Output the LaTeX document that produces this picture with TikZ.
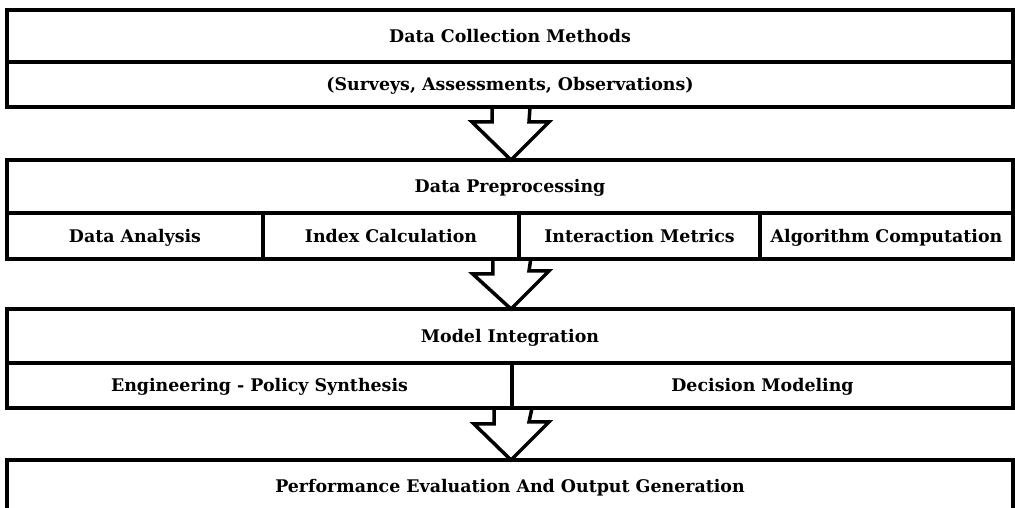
\documentclass[tikz,border=0pt]{standalone}
\usepackage{fontspec}
\setmainfont{DejaVu Serif}
\usetikzlibrary{calc}

\begin{document}
\begin{tikzpicture}[x=1pt,y=1pt,
	cell/.style={draw=black,line width=3.5pt,outer sep=0pt,inner sep=0pt,
		text height=14.5pt,text depth=2pt,
		font=\bfseries\fontsize{17.4}{20}\selectfont},
	flowarrow/.style={draw=black,line width=3.5pt,line join=miter}]
	\useasboundingbox (0,0) rectangle (1015,508);
	% stage 1
	\node[cell,minimum width=1006pt,minimum height=52pt] (collect) at (510,472) {Data Collection Methods};
	\node[cell,minimum width=1006pt,minimum height=45pt] (sources) at (510,423.5) {(Surveys, Assessments, Observations)};
	% stage 2
	\node[cell,minimum width=1006pt,minimum height=53pt] (prep) at (510,321.5) {Data Preprocessing};
	\node[cell,minimum width=256pt,minimum height=46pt] (analysis) at (135,272) {Data Analysis};
	\node[cell,minimum width=256pt,minimum height=46pt] (index) at (391,272) {Index Calculation};
	\node[cell,minimum width=241pt,minimum height=46pt] (interact) at (639.5,272) {Interaction Metrics};
	\node[cell,minimum width=253pt,minimum height=46pt] (algo) at (886.5,272) {Algorithm Computation};
	% stage 3
	\node[cell,minimum width=1006pt,minimum height=54pt] (model) at (510,172) {Model Integration};
	\node[cell,minimum width=505pt,minimum height=45pt] (policy) at (259.5,122.5) {Engineering - Policy Synthesis};
	\node[cell,minimum width=501pt,minimum height=45pt] (decide) at (762.5,122.5) {Decision Modeling};
	% stage 4
	\node[cell,minimum width=1006pt,minimum height=52pt] (output) at (510,22) {Performance Evaluation And Output Generation};
	% block arrows
	\draw[flowarrow] ([xshift=-18pt]sources.south) -- ++(0,-15) -- ++(-20,0)
		-- ([xshift=1pt]prep.north) -- ++(38,38) -- ++(-20,0) -- ([xshift=20pt]sources.south);
	\draw[flowarrow] ([xshift=-18pt]$(analysis.south)!0.5!(algo.south)$) -- ++(0,-15) -- ++(-20,0)
		-- ([xshift=1pt]model.north) -- ++(38,38) -- ++(-20,0) -- ([xshift=20pt]$(analysis.south)!0.5!(algo.south)$);
	\draw[flowarrow] ([xshift=-18pt]policy.south east) -- ++(0,-16) -- ++(-20,0)
		-- ([xshift=1pt]output.north) -- ++(38,38) -- ++(-20,0) -- ([xshift=20pt]policy.south east);
\end{tikzpicture}
\end{document}
